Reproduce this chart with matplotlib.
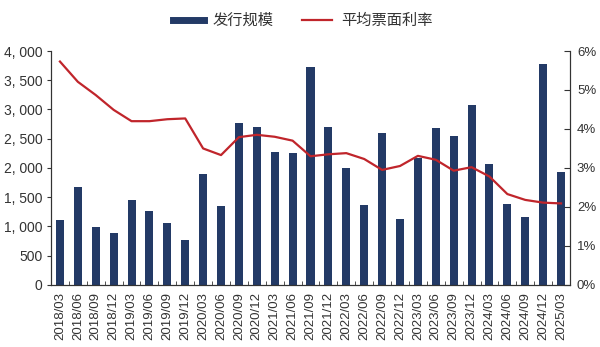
import numpy as np
import matplotlib.pyplot as plt
from matplotlib.lines import Line2D
from matplotlib.ticker import FuncFormatter

plt.rcParams['font.family'] = ['Liberation Sans', 'Noto Sans CJK SC', 'DejaVu Sans']

quarters = ['2018/03', '2018/06', '2018/09', '2018/12', '2019/03', '2019/06', '2019/09', '2019/12',
            '2020/03', '2020/06', '2020/09', '2020/12', '2021/03', '2021/06', '2021/09', '2021/12',
            '2022/03', '2022/06', '2022/09', '2022/12', '2023/03', '2023/06', '2023/09', '2023/12',
            '2024/03', '2024/06', '2024/09', '2024/12', '2025/03']
issuance = [1110, 1670, 990, 890, 1450, 1270, 1050, 760,
            1900, 1350, 2770, 2700, 2270, 2260, 3730, 2700,
            2000, 1365, 2590, 1135, 2170, 2685, 2540, 3070,
            2065, 1385, 1165, 3770, 1930]
coupon = [5.73, 5.21, 4.87, 4.49, 4.20, 4.20, 4.25, 4.27,
          3.50, 3.33, 3.79, 3.85, 3.80, 3.70, 3.30, 3.35,
          3.38, 3.23, 2.95, 3.05, 3.31, 3.21, 2.93, 3.02,
          2.78, 2.33, 2.18, 2.11, 2.09]

bar_color = '#233a66'
line_color = '#c0252b'
axis_color = '#333333'
text_color = '#333333'

fig = plt.figure(figsize=(6, 3.47), dpi=100)
ax = fig.add_axes([0.085, 0.179, 0.865, 0.674])
x = np.arange(len(quarters))
ax.bar(x, issuance, width=0.45, color=bar_color, zorder=2)
ax.set_xlim(-0.5, len(quarters) - 0.5)
ax.set_ylim(0, 4000)
ax.set_yticks(np.arange(0, 4001, 500))
ax.yaxis.set_major_formatter(FuncFormatter(lambda v, p: f'{int(v):,}'.replace(',', ', ')))
ax.set_xticks(x)
ax.set_xticklabels(quarters, rotation=90, fontsize=9.5, color=text_color)
ax.set_xticks(np.arange(-0.5, len(quarters), 1), minor=True)
ax.tick_params(axis='x', which='major', length=0, pad=5)
ax.tick_params(axis='x', which='minor', length=3, direction='in', color=axis_color)
ax.tick_params(axis='y', labelsize=10, labelcolor=text_color, length=3, direction='out',
               color=axis_color, pad=3)

ax2 = ax.twinx()
ax2.plot(x, coupon, color=line_color, lw=1.6, zorder=3)
ax2.set_ylim(0, 6)
ax2.set_yticks(np.arange(0, 7, 1))
ax2.yaxis.set_major_formatter(FuncFormatter(lambda v, p: f'{int(v)}%'))
ax2.tick_params(axis='y', labelsize=9.5, labelcolor=text_color, length=4, direction='in',
                color=axis_color, pad=5)

for a in (ax, ax2):
    a.spines['top'].set_visible(False)
    for s in ('left', 'right', 'bottom'):
        a.spines[s].set_color(axis_color)
        a.spines[s].set_linewidth(0.8)

handles = [Line2D([0], [0], color=bar_color, lw=5),
           Line2D([0], [0], color=line_color, lw=1.6)]
fig.legend(handles, ['发行规模', '平均票面利率'], loc='upper center', bbox_to_anchor=(0.505, 1.0),
           ncol=2, frameon=False, fontsize=11, handlelength=2, columnspacing=1.8,
           handletextpad=0.6, labelcolor=text_color)

fig.savefig('out.png', dpi=100)
